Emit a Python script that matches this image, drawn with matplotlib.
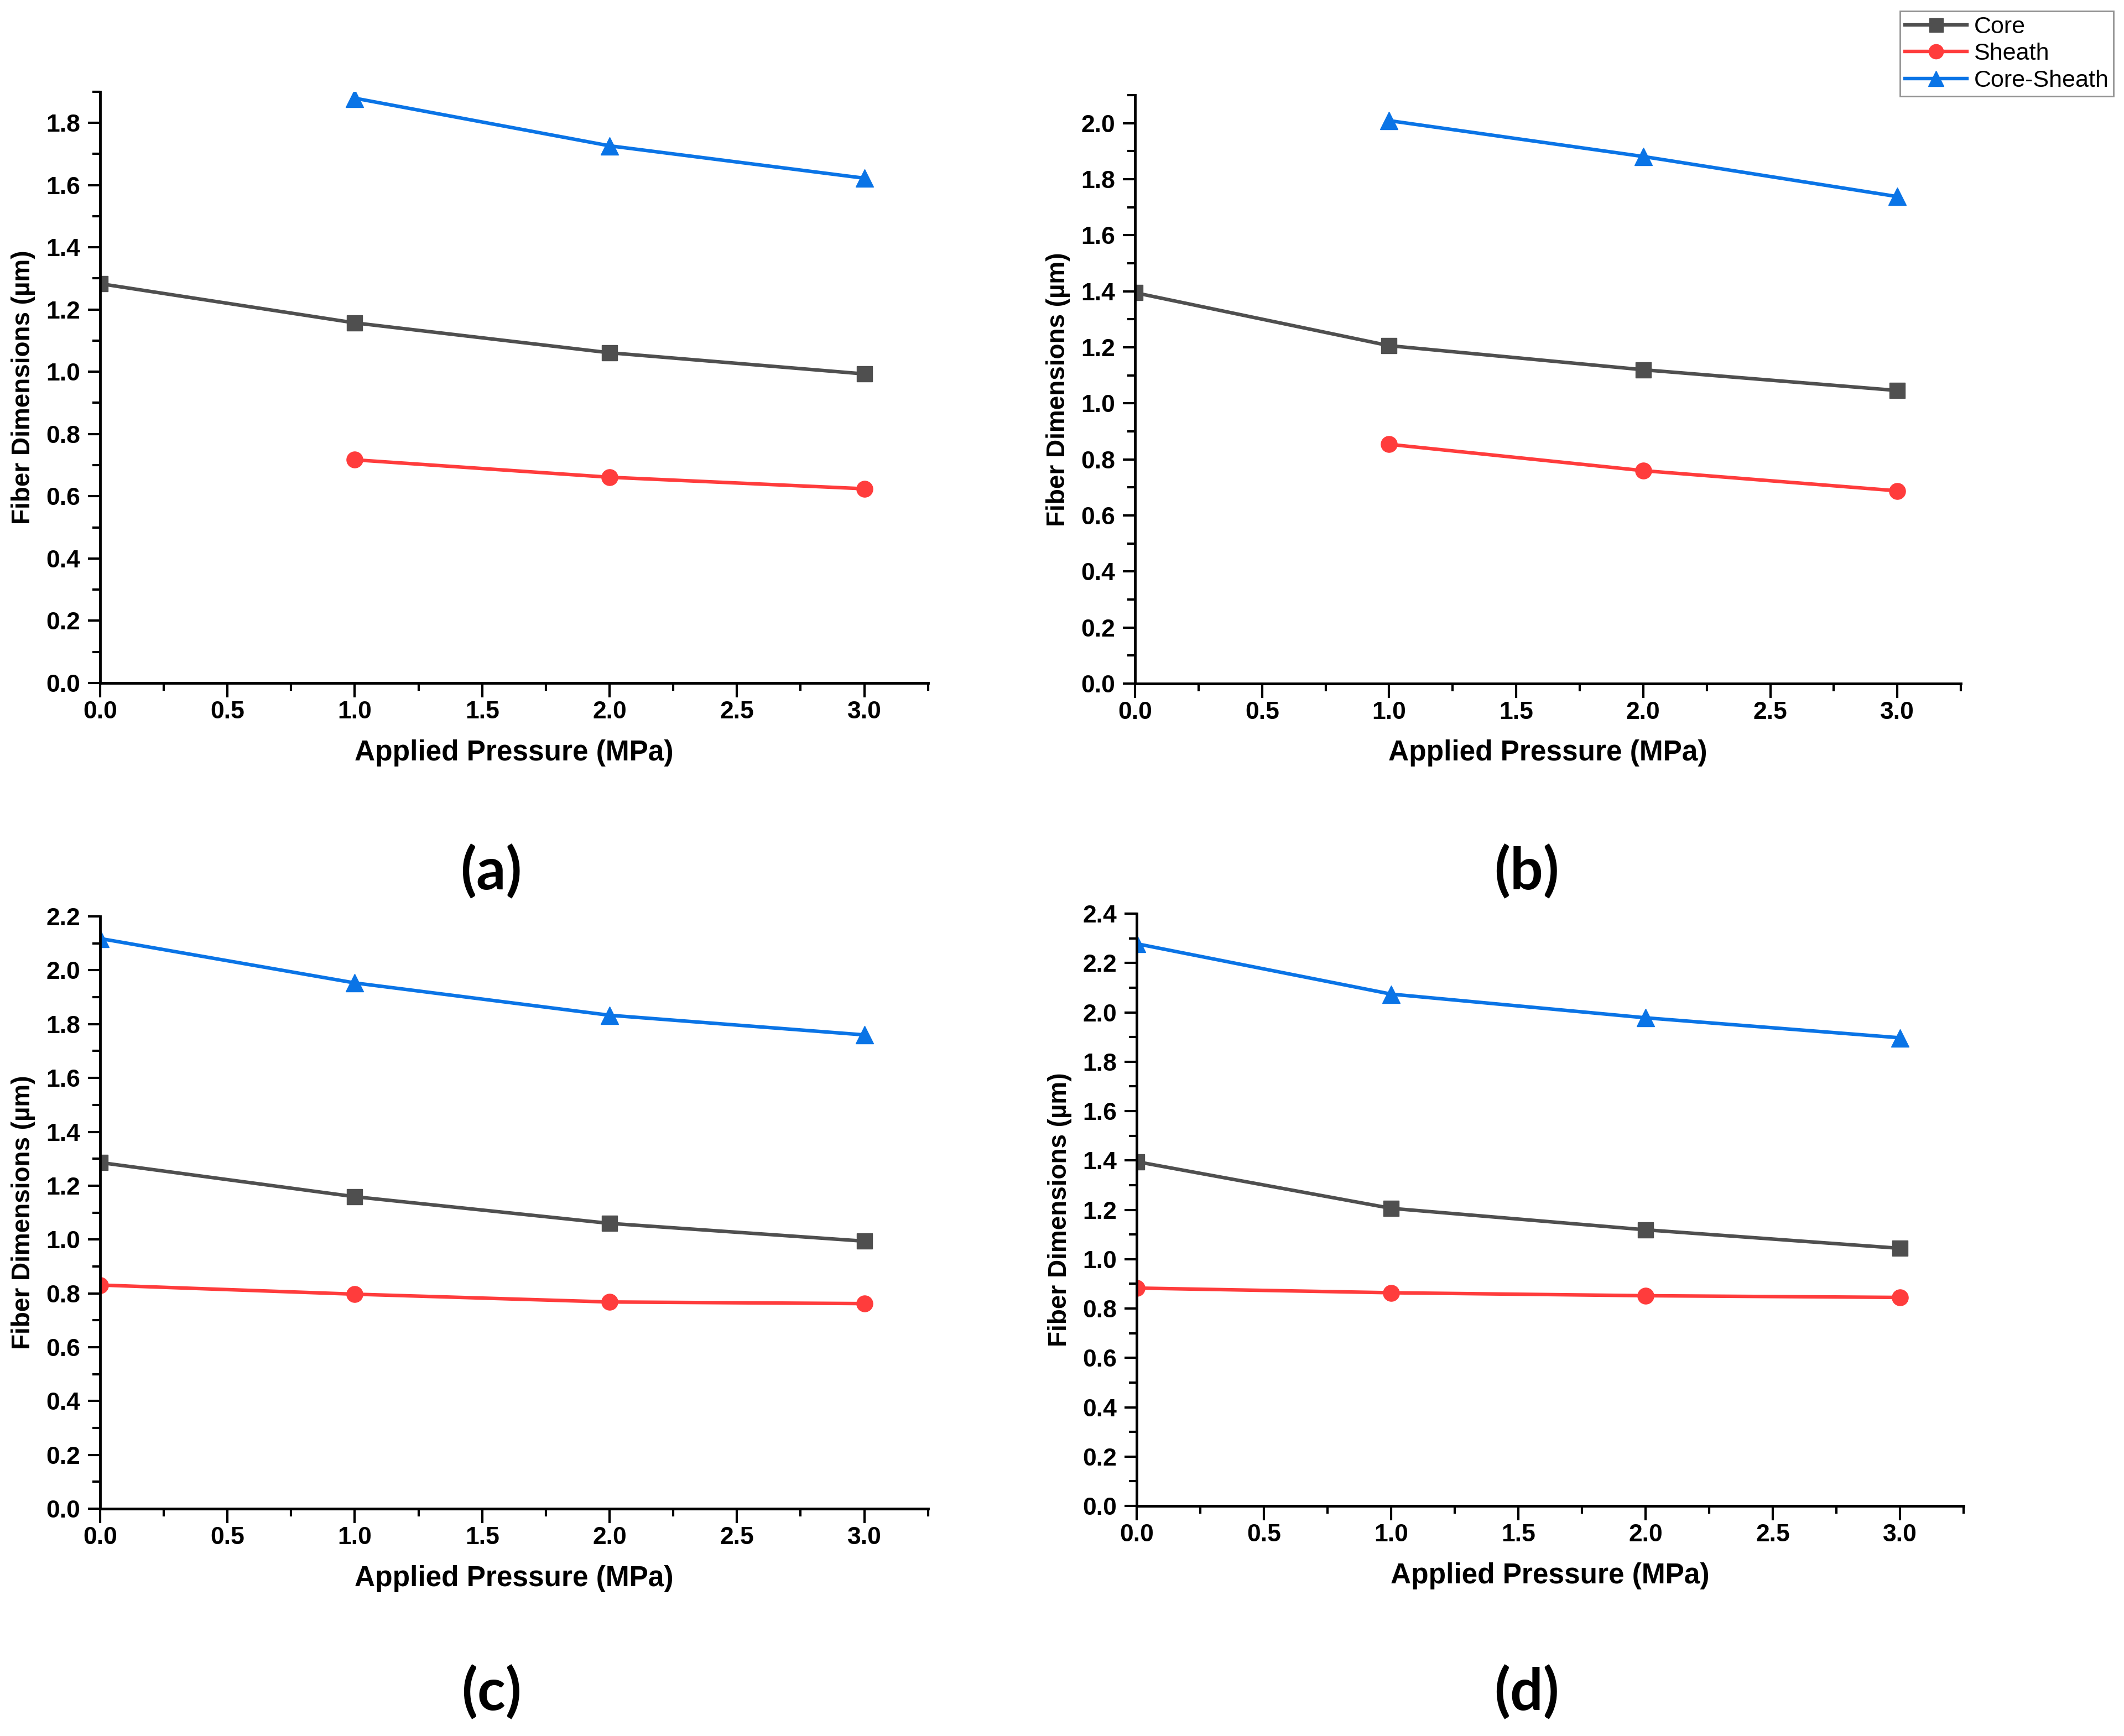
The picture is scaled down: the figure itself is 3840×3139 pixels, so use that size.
import matplotlib
matplotlib.use("Agg")
import matplotlib.pyplot as plt
from matplotlib.ticker import MultipleLocator

plt.rcParams['font.family'] = ['Liberation Sans', 'DejaVu Sans']

# Applied pressure (MPa)
pressure = [0.0, 1.0, 2.0, 3.0]
pressure_no0 = [1.0, 2.0, 3.0]

# (a)
core_a = [1.283, 1.157, 1.061, 0.993]
sheath_a = [0.717, 0.661, 0.624]
coresheath_a = [1.879, 1.726, 1.622]

# (b)
core_b = [1.395, 1.206, 1.120, 1.046]
sheath_b = [0.854, 0.760, 0.688]
coresheath_b = [2.009, 1.881, 1.738]

# (c)
core_c = [1.286, 1.159, 1.060, 0.994]
sheath_c = [0.831, 0.797, 0.768, 0.762]
coresheath_c = [2.118, 1.953, 1.833, 1.760]

# (d)
core_d = [1.395, 1.206, 1.119, 1.044]
sheath_d = [0.883, 0.864, 0.852, 0.845]
coresheath_d = [2.278, 2.074, 1.978, 1.897]

panel_labels = ['(a)', '(b)', '(c)', '(d)']
y_tops = [1.9, 2.1, 2.2, 2.4]

c_core = '#4f4f4f'
c_sheath = '#ff3c3c'
c_cs = '#0a74e6'

fig = plt.figure(figsize=(38.4, 31.39), dpi=100)

# axes boxes [left, bottom, width, height]
boxes = [
    [0.0471, 0.6066, 0.3898, 0.3406],
    [0.5344, 0.6062, 0.3888, 0.3390],
    [0.0471, 0.1309, 0.3898, 0.3412],
    [0.5352, 0.1325, 0.3893, 0.3412],
]
label_pos = [(888, 1577), (2760, 1577), (888, 3061), (2760, 3061)]

panels = [
    (pressure, core_a, pressure_no0, sheath_a, pressure_no0, coresheath_a),
    (pressure, core_b, pressure_no0, sheath_b, pressure_no0, coresheath_b),
    (pressure, core_c, pressure, sheath_c, pressure, coresheath_c),
    (pressure, core_d, pressure, sheath_d, pressure, coresheath_d),
]

lw = 4.6
ms = 21
handles = None
for i, (box, data) in enumerate(zip(boxes, panels)):
    ax = fig.add_axes(box)
    x1, y1, x2, y2, x3, y3 = data
    h1, = ax.plot(x1, y1, color=c_core, marker='s', lw=lw, ms=ms - 1, label='Core')
    h2, = ax.plot(x2, y2, color=c_sheath, marker='o', lw=lw, ms=ms, label='Sheath')
    h3, = ax.plot(x3, y3, color=c_cs, marker='^', lw=lw, ms=ms + 2, label='Core-Sheath')
    handles = [h1, h2, h3]

    ax.set_xlim(0, 3.25)
    ax.set_ylim(0, y_tops[i])
    ax.xaxis.set_major_locator(MultipleLocator(0.5))
    ax.xaxis.set_minor_locator(MultipleLocator(0.25))
    ax.yaxis.set_major_locator(MultipleLocator(0.2))
    ax.yaxis.set_minor_locator(MultipleLocator(0.1))
    ax.xaxis.set_major_formatter(plt.FormatStrFormatter('%.1f'))
    ax.yaxis.set_major_formatter(plt.FormatStrFormatter('%.1f'))

    for s in ['top', 'right']:
        ax.spines[s].set_visible(False)
    for s in ['left', 'bottom']:
        ax.spines[s].set_linewidth(3.5)

    ax.tick_params(axis='x', which='major', length=19, width=3, pad=4, labelsize=32)
    ax.tick_params(axis='y', which='major', length=16, width=3, pad=10, labelsize=32)
    ax.tick_params(which='minor', length=10, width=3)
    for lab in ax.get_xticklabels() + ax.get_yticklabels():
        lab.set_fontweight('bold')

    ax.set_xlabel('Applied Pressure (MPa)', fontsize=37, fontweight='bold')
    ax.set_ylabel('Fiber Dimensions (µm)', fontsize=33, fontweight='bold')
    ax.xaxis.label.set_va('center')
    ax.yaxis.label.set_va('center')
    ax.xaxis.set_label_coords(0.5, -0.118)
    ax.yaxis.set_label_coords(-0.093, 0.5)

    px, py = label_pos[i]
    fig.text(px / 3840, 1 - py / 3139, panel_labels[i], fontsize=76,
             family=['Lato', 'DejaVu Sans'], fontweight='bold',
             ha='center', va='center')

leg = fig.legend(handles=handles, loc='upper right', bbox_to_anchor=(3821 / 3840, 1 - 20 / 3139),
                 fontsize=31, frameon=True, fancybox=False, borderpad=0.2,
                 handlelength=2.6, handletextpad=0.3, labelspacing=0.2, borderaxespad=0,
                 markerscale=0.9)
leg.get_frame().set_edgecolor('#777777')
leg.get_frame().set_linewidth(2)

fig.savefig('out.png', dpi=100, facecolor='white')
